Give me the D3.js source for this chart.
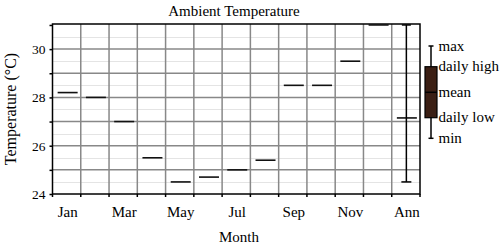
<!DOCTYPE html>
<html><head><meta charset="utf-8">
<script src="https://cdn.jsdelivr.net/npm/d3@7"></script>
<style>body{margin:0;background:#fff}svg{display:block}text{font-family:"Liberation Serif","Times New Roman",serif;fill:#000}</style>
</head><body><div id="chart"></div>
<script>
const categories = ["Jan","Feb","Mar","Apr","May","Jun","Jul","Aug","Sep","Oct","Nov","Dec","Ann"];
const tickLabels = ["Jan","","Mar","","May","","Jul","","Sep","","Nov","","Ann"];
const meanValues = [28.2,28.0,27.0,25.5,24.5,24.7,25.0,25.4,28.5,28.5,29.5,31.0,27.15];
const annualMax = 31.0;
const annualMin = 24.5;
const yTicks = [24,25,26,27,28,29,30,31];
const yLabels = ["24","","26","","28","","30",""];
const minorTicks = [24.5,25.5,26.5,27.5,28.5,29.5,30.5];
const legendLabels = ["max","daily high","mean","daily low","min"];

const W=500,H=246;
const svg=d3.select("#chart").append("svg").attr("width",W).attr("height",H);
const L=52.5,R=420,T=24,B=194;
const x=d3.scaleBand().domain(categories).range([L,R]).padding(0);
const y=d3.scaleLinear().domain([24,31.04]).range([B,T]);

// minor grid
svg.append("g").selectAll("line").data(minorTicks).join("line")
 .attr("x1",L).attr("x2",R).attr("y1",d=>Math.round(y(d))+0.5).attr("y2",d=>Math.round(y(d))+0.5)
 .attr("stroke","#e4e4e4").attr("stroke-width",1);
// major grid
svg.append("g").selectAll("line").data(yTicks.filter(d=>d>24&&d<31)).join("line")
 .attr("x1",L).attr("x2",R).attr("y1",d=>y(d)).attr("y2",d=>y(d))
 .attr("stroke","#888").attr("stroke-width",1.5);
// vertical grid
svg.append("g").selectAll("line").data(categories.slice(1)).join("line")
 .attr("x1",d=>x(d)).attr("x2",d=>x(d)).attr("y1",T).attr("y2",B)
 .attr("stroke","#888").attr("stroke-width",1.5);

// frame
svg.append("rect").attr("x",L).attr("y",T).attr("width",R-L).attr("height",B-T)
 .attr("fill","none").attr("stroke","#000").attr("stroke-width",1.5);

// y axis
const ya=d3.axisLeft(y).tickValues(yTicks).tickSize(3).tickPadding(4)
 .tickFormat((d,i)=>yLabels[i]);
const yg=svg.append("g").attr("transform",`translate(${L},0)`).call(ya);
yg.select(".domain").remove();
yg.selectAll("line").attr("stroke","#000").attr("stroke-width",1.5);
yg.selectAll("text").style("font-family","Liberation Serif").style("font-size","13.5px").attr("fill","#000");

// x axis boundary ticks
svg.append("g").selectAll("line").data(categories.slice(1).map(c=>x(c)).concat([L,R])).join("line")
 .attr("x1",d=>d).attr("x2",d=>d).attr("y1",B).attr("y2",B+3)
 .attr("stroke","#000").attr("stroke-width",1.5);
const xa=d3.axisBottom(x).tickSize(0).tickPadding(12).tickFormat((d,i)=>tickLabels[i]);
const xg=svg.append("g").attr("transform",`translate(1,${B})`).call(xa);
xg.select(".domain").remove();
xg.selectAll("text").style("font-family","Liberation Serif").style("font-size","15px").attr("fill","#000");

// mean lines
const hw=10;
svg.append("g").selectAll("line").data(categories).join("line")
 .attr("x1",(d)=>x(d)+x.bandwidth()/2-hw+1).attr("x2",(d)=>x(d)+x.bandwidth()/2+hw+1)
 .attr("y1",(d,i)=>y(meanValues[i])).attr("y2",(d,i)=>y(meanValues[i]))
 .attr("stroke","#111").attr("stroke-width",1.6);

// annual whisker
const ax=x("Ann")+x.bandwidth()/2+0.5;
const wg=svg.append("g").attr("stroke","#000").attr("stroke-width",1.5);
wg.append("line").attr("x1",ax).attr("x2",ax).attr("y1",y(annualMax)).attr("y2",y(annualMin));
wg.append("line").attr("x1",ax-4.5).attr("x2",ax+4.5).attr("y1",y(annualMax)).attr("y2",y(annualMax));
wg.append("line").attr("x1",ax-5).attr("x2",ax+5).attr("y1",y(annualMin)).attr("y2",y(annualMin));

// legend
const lx=431, lyTop=46, lyHigh=66.7, lyMean=92.3, lyLow=117.7, lyBot=138.3;
const lg=svg.append("g");
lg.append("line").attr("x1",lx).attr("x2",lx).attr("y1",lyTop).attr("y2",lyBot).attr("stroke","#000").attr("stroke-width",1.5);
lg.append("line").attr("x1",lx-2.5).attr("x2",lx+2.5).attr("y1",lyTop).attr("y2",lyTop).attr("stroke","#000").attr("stroke-width",1.5);
lg.append("line").attr("x1",lx-2.5).attr("x2",lx+2.5).attr("y1",lyBot).attr("y2",lyBot).attr("stroke","#000").attr("stroke-width",1.5);
lg.append("rect").attr("x",lx-6).attr("y",lyHigh).attr("width",12).attr("height",lyLow-lyHigh)
 .attr("fill","#3b1f14").attr("stroke","#000").attr("stroke-width",1.2);
lg.append("line").attr("x1",lx-6).attr("x2",lx+6).attr("y1",lyMean).attr("y2",lyMean).attr("stroke","#000").attr("stroke-width",1.5);
const lpos=[lyTop,lyHigh,lyMean,lyLow,lyBot];
lg.selectAll("text").data(legendLabels).join("text")
 .attr("x",438.5).attr("y",(d,i)=>lpos[i]+4.5).style("font-size","15px").text(d=>d);

// titles
svg.append("text").attr("x",234).attr("y",15.5).attr("text-anchor","middle").style("font-size","15px").text("Ambient Temperature");
svg.append("text").attr("x",239).attr("y",241.5).attr("text-anchor","middle").style("font-size","15px").text("Month");
svg.append("text").attr("transform","translate(15.5,109) rotate(-90)").attr("text-anchor","middle").style("font-size","16px").text("Temperature (°C)");
</script></body></html>
